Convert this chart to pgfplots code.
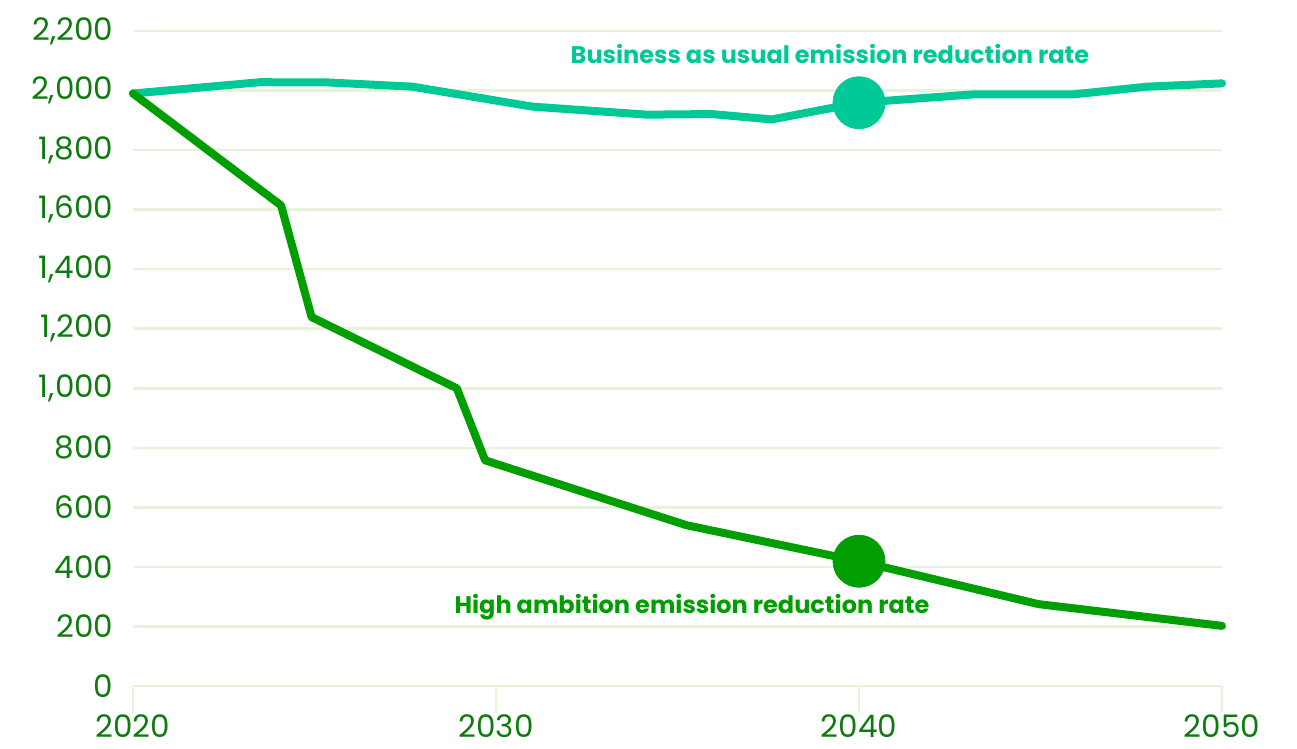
\documentclass[border=0pt]{standalone}
\usepackage{fontspec}
\setmainfont{Poppins}
\usepackage{pgfplots}
\pgfplotsset{compat=1.18}
\definecolor{gridc}{HTML}{E8F3DC}
\definecolor{teal}{HTML}{00C896}
\definecolor{hgreen}{HTML}{009E00}
\definecolor{lab}{HTML}{0F7B0F}
\begin{document}
\begin{tikzpicture}
\begin{axis}[
  scale only axis,
  width=544.5pt, height=327.5pt,
  xmin=2020, xmax=2050, ymin=0, ymax=2200,
  xtick={2020,2030,2040,2050},
  xticklabels={2020,2030,2040,2050},
  ytick={0,200,...,2200},
  yticklabels={0,200,400,600,800,{1,000},{1,200},{1,400},{1,600},{1,800},{2,000},{2,200}},
  axis line style={draw=none},
  ymajorgrids,
  grid style={draw=gridc, line width=1.3pt},
  tick align=outside,
  xtick pos=bottom,
  xtick style={draw=gridc, line width=1.3pt, /pgfplots/major tick length=13.5pt},
  ytick style={draw=none},
  tick label style={font=\fontsize{15.5}{18}\selectfont, text=lab},
  yticklabel style={xshift=-2pt},
  xticklabel style={yshift=-6.5pt},
  clip=false,
]
\addplot[teal, line width=4pt, line join=round, line cap=round] coordinates {
(2020,1990) (2023.5,2028) (2025.4,2027) (2027.7,2013) (2031.0,1946) (2034.15,1919)
(2035.94,1921) (2037.6,1903) (2040,1959) (2043.15,1987) (2045.9,1987) (2047.93,2013) (2050,2024)
};
\addplot[hgreen, line width=4pt, line join=round, line cap=round] coordinates {
(2020,1990) (2024.08,1614) (2024.92,1239) (2028.92,1000) (2029.7,758) (2035.25,540)
(2040,419) (2044.94,275) (2050,202)
};
\addplot[teal, only marks, mark=*, mark size=13pt] coordinates {(2040,1959)};
\addplot[hgreen, only marks, mark=*, mark size=13pt] coordinates {(2040,419)};
\node[text=teal, font=\fontsize{12}{14}\selectfont\bfseries] at (axis cs:2039.2,2124) {Business as usual emission reduction rate};
\node[text=hgreen, font=\fontsize{12}{14}\selectfont\bfseries] at (axis cs:2035.4,265) {High ambition emission reduction rate};
\end{axis}
\pgfresetboundingbox
\path[use as bounding box] (-66.5pt,-31.5pt) rectangle (582pt,343pt);
\end{tikzpicture}
\end{document}
